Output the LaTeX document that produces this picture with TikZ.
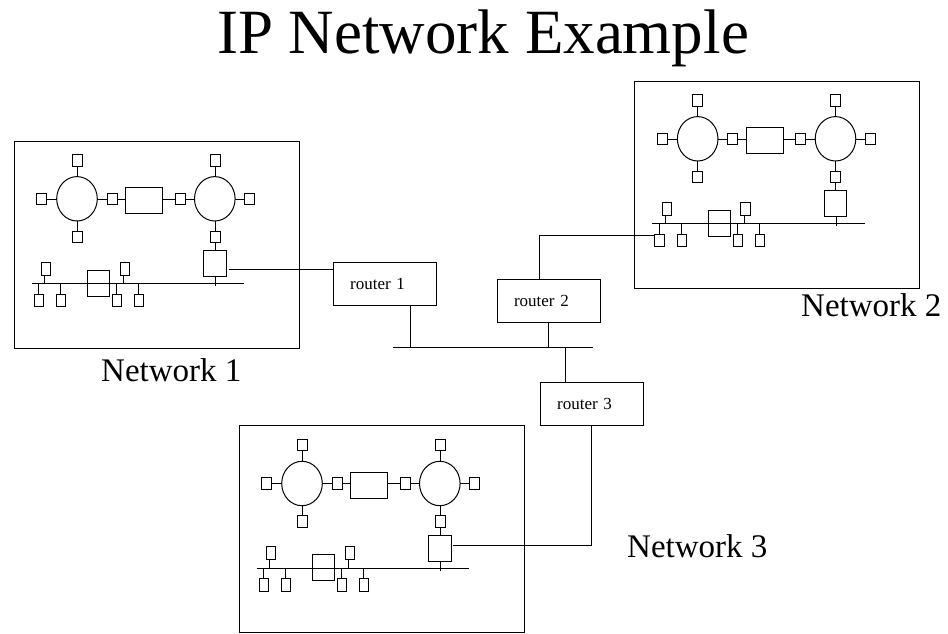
\documentclass[tikz,border=0pt]{standalone}
\usepackage{fontspec}
\setmainfont{Liberation Serif}
\tikzset{
  ln/.style={line width=1pt, line cap=butt},
  routerbox/.style={draw, line width=1pt, minimum width=103.5pt, minimum height=43pt,
    text width=70pt, inner xsep=16.75pt, inner ysep=0pt, align=left,
    font=\fontsize{17}{19}\selectfont},
  lbl/.style={anchor=base west, inner sep=0pt, font=\fontsize{33}{36}\selectfont},
  network/.pic={
    \draw[ln] (0,0) rectangle (285,207);
    % two rings
    \draw[ln] (63,57.8) ellipse [x radius=20.3pt, y radius=22.2pt];
    \draw[ln] (200.8,57.8) ellipse [x radius=20.3pt, y radius=22.2pt];
    % ring stations
    \foreach \cx/\cy in {63/19.5, 27.7/58, 63/95.8, 98/58, 166/58, 201/19.5, 235.8/58, 201/95.8}
      \draw[ln] ({\cx-5},{\cy-5.75}) rectangle ({\cx+5},{\cy+5.75});
    \draw[ln] (111.3,46.3) rectangle (148.7,72.3);
    \draw[ln] (63,25.25) -- (63,35.6);
    \draw[ln] (32.7,58) -- (42.7,58);
    \draw[ln] (83.3,58) -- (93,58);
    \draw[ln] (63,80) -- (63,90);
    \draw[ln] (103,58) -- (111.3,58);
    \draw[ln] (148.7,58) -- (161,58);
    \draw[ln] (171,58) -- (180.5,58);
    \draw[ln] (221.1,58) -- (230.8,58);
    \draw[ln] (201,25.25) -- (201,35.6);
    \draw[ln] (201,80) -- (201,90);
    \draw[ln] (201,101.5) -- (201,109.7);
    % gateway and bus
    \draw[ln] (189.7,109.7) rectangle (212,135.7);
    \draw[ln] (201.7,135.7) -- (201.7,145);
    \draw[ln] (17.7,142.7) -- (230.3,142.7);
    \draw[ln] (73.3,129) rectangle (95.3,155);
    % hosts above the bus
    \foreach \hx/\sx in {27.3/30.7, 106/109.7} {
      \draw[ln] (\hx,121) rectangle ({\hx+9.4},134);
      \draw[ln] (\sx,134) -- (\sx,142.7);
    }
    % hosts below the bus
    \foreach \hx/\sx in {20/24.3, 42.3/46.3, 98.3/102.7, 120.3/124.7} {
      \draw[ln] (\hx,153) rectangle ({\hx+9.6},165.7);
      \draw[ln] (\sx,142.7) -- (\sx,153);
    }
  }
}
\begin{document}
\begin{tikzpicture}[x=1pt, y=-1pt]
  \useasboundingbox (0,0) rectangle (948,633);

  \node[anchor=base, inner sep=0pt, font=\fontsize{63}{70}\selectfont] (title) at (483,53.5) {IP Network Example};

  \pic (n1) at (14,141) {network};
  \pic (n2) at (634.7,81) {network};
  \pic (n3) at (239,425.7) {network};

  \node[lbl] (l1) at (101,381.7) {Network 1};
  \node[lbl] (l2) at (801,316) {Network 2};
  \node[lbl] (l3) at (627,557) {Network 3};

  \node[routerbox] (r1) at (385.2,283.7) {router 1};
  \node[routerbox] (r2) at (549,300.8) {router 2};
  \node[routerbox] (r3) at (592.2,404.2) {router 3};

  \coordinate (n1out) at (228.5,269.5);
  \coordinate (n2in) at (654.7,235);
  \coordinate (n3out) at (453.3,545.7);
  \coordinate (bbL) at (393.3,347.7);
  \coordinate (bbR) at (592.7,347.7);

  \draw[ln] (bbL) -- (bbR);
  \draw[ln] (n1out) -- (n1out -| r1.west);
  \draw[ln] ([xshift=25pt]r1.south) -- ([xshift=25pt]r1.south |- bbL);
  \draw[ln] ([xshift=-1pt]r2.south) -- ([xshift=-1pt]r2.south |- bbL);
  \draw[ln] ([xshift=-9.7pt]r2.north) |- (n2in);
  \draw[ln] ([xshift=-26.5pt]r3.north) -- ([xshift=-26.5pt]r3.north |- bbL);
  \draw[ln] ([xshift=-0.5pt]r3.south) |- (n3out);
\end{tikzpicture}
\end{document}
